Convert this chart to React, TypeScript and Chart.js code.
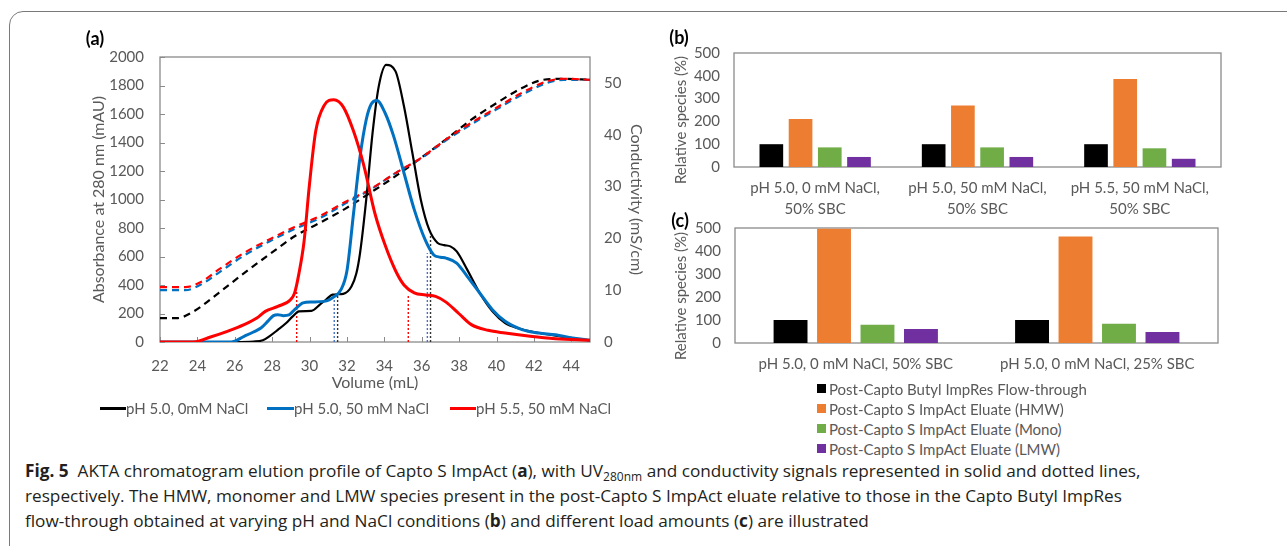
import React, { useEffect, useRef } from "react";
import { Chart, registerables } from "chart.js";
Chart.register(...registerables);

// ---------- Panel (a): chromatogram ----------
const volBlack = [22, 26, 27.0, 27.5, 27.85, 28.3, 28.75, 29.1, 29.43, 29.8, 30.1, 30.55, 30.9, 31.23, 31.5, 31.8, 32.24, 32.5, 32.7, 33.03, 33.37, 33.7, 34.1, 34.6, 35.05, 35.5, 35.95, 36.4, 36.85, 37.2, 37.53, 37.87, 38.43, 39.1, 39.78, 40.46, 41.2, 42.0, 43.4, 45];
const uvBlack = [0, 0, 3, 12, 40, 85, 133, 180, 215, 217, 218, 262, 300, 332, 335, 338, 390, 480, 624, 999, 1467, 1794, 1945, 1899, 1654, 1326, 999, 788, 695, 680, 671, 636, 508, 344, 215, 133, 95, 70, 40, 12];

const volBlue = [22, 25.8, 26.5, 27.0, 27.4, 27.8, 28.07, 28.3, 28.6, 28.9, 29.2, 29.65, 30.1, 30.78, 31.34, 31.68, 32.0, 32.35, 32.7, 33.03, 33.3, 33.6, 34.04, 34.5, 35.05, 35.6, 36.18, 36.63, 37.0, 37.3, 37.87, 38.43, 39.1, 39.78, 40.46, 41.36, 42.26, 43.16, 44.06, 45];
const uvBlue = [0, 0, 40, 70, 98, 150, 185, 192, 185, 190, 227, 274, 281, 285, 320, 367, 500, 900, 1300, 1560, 1670, 1695, 1607, 1443, 1186, 929, 718, 613, 595, 589, 554, 461, 344, 227, 145, 87, 63, 51, 28, 12];

const volRed = [22, 23.8, 24.7, 25.6, 26.5, 27.18, 27.63, 28.3, 28.98, 29.2, 29.43, 29.7, 29.99, 30.33, 30.78, 31.3, 31.8, 32.35, 32.9, 33.5, 34.04, 34.6, 35.05, 35.6, 36.2, 36.74, 37.3, 37.98, 38.65, 39.55, 40.46, 41.8, 43.16, 45];
const uvRed = [0, 0, 35, 75, 122, 168, 215, 250, 297, 344, 480, 700, 1100, 1480, 1660, 1700, 1650, 1480, 1240, 900, 680, 500, 400, 345, 330, 320, 280, 200, 122, 82, 63, 40, 23, 12];

const condVolBlack = [22, 22.9, 23.8, 25.15, 26.5, 27.85, 29.2, 30.55, 31.9, 33.25, 34.6, 35.95, 37.3, 38.65, 40.0, 41.36, 42.5, 43.6, 45];
const condBlack = [4.6, 4.6, 5.9, 9.5, 13.3, 16.9, 20.4, 23.0, 25.7, 28.8, 32.0, 35.5, 39.1, 42.9, 46.1, 49.0, 50.6, 50.8, 50.6];
const condVolRB = [22, 23.35, 24.25, 25.15, 26.5, 27.85, 29.2, 30.55, 31.9, 33.25, 34.6, 35.95, 37.3, 38.65, 40.0, 41.36, 42.7, 43.6, 45];
const condRed = [10.6, 10.6, 11.7, 14.0, 17.2, 19.8, 22.2, 24.3, 27.0, 29.5, 32.6, 35.5, 39.1, 42.3, 45.2, 48.1, 50.3, 50.8, 50.6];
const condBlue = [10.0, 10.0, 11.2, 13.4, 16.7, 19.4, 21.8, 23.9, 26.7, 29.4, 32.6, 35.4, 38.9, 42.0, 44.9, 47.7, 50.0, 50.6, 50.6];

// fraction cut marks (volume, absorbance at top of the marker)
const fracBlackVol = [31.5, 36.47];
const fracBlackTop = [332, 753];
const fracBlueVol = [31.32, 36.3];
const fracBlueTop = [315, 624];
const fracRedVol = [29.31, 35.28];
const fracRedTop = [360, 335];

const seriesA = ["pH 5.0, 0mM NaCl", "pH 5.0, 50 mM NaCl", "pH 5.5, 50 mM NaCl"];

// ---------- Panel (b) ----------
const bCategories = [["pH 5.0, 0 mM NaCl,", "50% SBC"], ["pH 5.0, 50 mM NaCl,", "50% SBC"], ["pH 5.5, 50 mM NaCl,", "50% SBC"]];
const bFlow = [100, 100, 100];
const bHMW = [211, 270, 386];
const bMono = [86, 86, 82];
const bLMW = [44, 44, 36];

// ---------- Panel (c) ----------
const cCategories = ["pH 5.0, 0 mM NaCl, 50% SBC", "pH 5.0, 0 mM NaCl, 25% SBC"];
const cFlow = [100, 100];
const cHMW = [497, 463];
const cMono = [79, 84];
const cLMW = [61, 48];

const barSeries = [
  "Post-Capto Butyl ImpRes Flow-through",
  "Post-Capto S ImpAct Eluate (HMW)",
  "Post-Capto S ImpAct Eluate (Mono)",
  "Post-Capto S ImpAct Eluate (LMW)",
];
const barColors = ["#000000", "#ED7D31", "#70AD47", "#7030A0"];

const FONT = "Lato, 'Open Sans', sans-serif";
const GRAY = "#595959";

const pts = (xs: number[], ys: number[]) => xs.map((x, i) => ({ x, y: ys[i] }));
const plain = (v: any) => String(v);

const boxPlugin = {
  id: "box",
  beforeDatasetsDraw(chart: any) {
    const { ctx, chartArea: a } = chart;
    ctx.save();
    ctx.strokeStyle = "#8a8a8a";
    ctx.lineWidth = 1.3;
    ctx.strokeRect(a.left, a.top, a.right - a.left, a.bottom - a.top);
    ctx.restore();
  },
};

const innerTicks = {
  id: "innerTicks",
  beforeDatasetsDraw(chart: any) {
    const { ctx, chartArea: a, scales } = chart;
    ctx.save();
    ctx.strokeStyle = "#8a8a8a";
    ctx.lineWidth = 1;
    ctx.beginPath();
    scales.x.ticks.forEach((t: any) => {
      const px = Math.round(scales.x.getPixelForValue(t.value)) + 0.5;
      ctx.moveTo(px, a.bottom);
      ctx.lineTo(px, a.bottom - 5);
    });
    scales.y.ticks.forEach((t: any) => {
      const py = Math.round(scales.y.getPixelForValue(t.value)) + 0.5;
      ctx.moveTo(a.left, py);
      ctx.lineTo(a.left + 5, py);
    });
    ctx.stroke();
    ctx.restore();
  },
};

function lineDs(data: any, color: string, width: number, axis: string, dash: number[] = []) {
  return {
    data,
    borderColor: color,
    backgroundColor: color,
    borderWidth: width,
    borderDash: dash,
    pointRadius: 0,
    fill: false,
    cubicInterpolationMode: "monotone" as const,
    yAxisID: axis,
  };
}

function fracDs(vols: number[], tops: number[], color: string) {
  return vols.map((v, i) => ({
    data: [{ x: v, y: 0 }, { x: v, y: tops[i] }],
    borderColor: color,
    borderWidth: 1.4,
    borderDash: [2, 2],
    pointRadius: 0,
    fill: false,
    yAxisID: "y",
  }));
}

function barOptions(pad: any, axisH: number, axisW: number) {
  return {
    responsive: false,
    animation: false as const,
    devicePixelRatio: 1,
    layout: { padding: pad },
    plugins: { legend: { display: false }, tooltip: { enabled: false } },
    scales: {
      x: {
        grid: { display: false, drawTicks: false },
        border: { display: false },
        ticks: { padding: 10.5, color: GRAY, maxRotation: 0, autoSkip: false, font: { family: FONT, size: 15, lineHeight: 1.4 } },
        afterFit: (s: any) => { s.height = axisH; },
      },
      y: {
        min: 0,
        max: 500,
        grid: { display: false, drawTicks: false },
        border: { display: false },
        ticks: { stepSize: 100, padding: 14, color: GRAY, font: { family: FONT, size: 15 }, callback: plain },
        afterFit: (s: any) => { s.width = axisW; },
      },
    },
  };
}

function barDatasets(series: number[][], catPct: number, barPct: number) {
  return series.map((d, i) => ({
    label: barSeries[i],
    data: d,
    backgroundColor: barColors[i],
    borderWidth: 0,
    categoryPercentage: catPct,
    barPercentage: barPct,
  }));
}

export default function App() {
  const refA = useRef<HTMLCanvasElement>(null);
  const refB = useRef<HTMLCanvasElement>(null);
  const refC = useRef<HTMLCanvasElement>(null);

  useEffect(() => {
    const charts: Chart[] = [];
    charts.push(
      new Chart(refA.current!, {
        type: "line",
        data: {
          datasets: [
            lineDs(pts(volRed, uvRed), "#FF0000", 3, "y"),
            lineDs(pts(volBlue, uvBlue), "#0070C0", 3, "y"),
            lineDs(pts(volBlack, uvBlack), "#000000", 2.2, "y"),
            ...fracDs(fracRedVol, fracRedTop, "#FF0000"),
            ...fracDs(fracBlueVol, fracBlueTop, "#4472C4"),
            ...fracDs(fracBlackVol, fracBlackTop, "#333333"),
            lineDs(pts(condVolRB, condRed), "#FF0000", 2.2, "y2", [7, 5]),
            lineDs(pts(condVolRB, condBlue), "#0070C0", 2.2, "y2", [7, 5]),
            lineDs(pts(condVolBlack, condBlack), "#000000", 2.2, "y2", [7, 5]),
          ] as any,
        },
        options: {
          responsive: false,
          animation: false,
          devicePixelRatio: 1,
          layout: { padding: { top: 57, left: 0, right: 0, bottom: 0 } },
          plugins: { legend: { display: false }, tooltip: { enabled: false } },
          scales: {
            x: {
              type: "linear",
              min: 22,
              max: 45,
              grid: { display: false, drawTicks: false },
              border: { display: false },
              ticks: { stepSize: 2, includeBounds: false, padding: 15, color: GRAY, font: { family: FONT, size: 15 }, callback: plain } as any,
              title: { display: true, text: "Volume (mL)", color: GRAY, font: { family: FONT, size: 16 }, padding: { top: 0, bottom: 38 } },
              afterFit: (s: any) => { s.height = 88; },
            },
            y: {
              position: "left",
              min: 0,
              max: 2000,
              grid: { display: false, drawTicks: false },
              border: { display: false },
              ticks: { stepSize: 200, padding: 16, color: GRAY, font: { family: FONT, size: 15 }, callback: plain },
              title: { display: true, text: "Absorbance at 280 nm (mAU)", color: GRAY, font: { family: FONT, size: 16 }, padding: { top: 89, bottom: 0 } },
              afterFit: (s: any) => { s.width = 160; },
            },
            y2: {
              position: "right",
              min: 0,
              max: 55,
              grid: { display: false, drawTicks: false },
              border: { display: false },
              ticks: { stepSize: 10, includeBounds: false, padding: 14, color: GRAY, font: { family: FONT, size: 15 }, callback: plain } as any,
              title: { display: true, text: "Conductivity (mS/cm)", color: GRAY, font: { family: FONT, size: 16 }, padding: { top: 14, bottom: 0 } },
              afterFit: (s: any) => { s.width = 70; },
            },
          },
        } as any,
        plugins: [boxPlugin, innerTicks],
      })
    );
    charts.push(
      new Chart(refB.current!, {
        type: "bar",
        data: { labels: bCategories, datasets: barDatasets([bFlow, bHMW, bMono, bLMW], 0.72, 0.81) as any },
        options: barOptions({ top: 21, right: 49, left: 0, bottom: 0 }, 63, 84) as any,
        plugins: [boxPlugin],
      })
    );
    charts.push(
      new Chart(refC.current!, {
        type: "bar",
        data: { labels: cCategories, datasets: barDatasets([cFlow, cHMW, cMono, cLMW], 0.72, 0.78) as any },
        options: barOptions({ top: 20, right: 52, left: 0, bottom: 0 }, 37, 85) as any,
        plugins: [boxPlugin],
      })
    );
    return () => charts.forEach((c) => c.destroy());
  }, []);

  const abs = (o: React.CSSProperties): React.CSSProperties => ({ position: "absolute", ...o });
  const legA = [
    { x: 100, tx: 126, color: "#000000" },
    { x: 267, tx: 294, color: "#0070C0" },
    { x: 450, tx: 476, color: "#FF0000" },
  ];

  return (
    <div style={abs({ left: 0, top: 0, width: 1287, height: 546, overflow: "hidden", background: "#fff", fontFamily: FONT })}>
      <div style={abs({ left: 9, top: 11, width: 1320, height: 600, border: "1.5px solid #7a7a7a", borderRadius: 14, boxSizing: "border-box" })} />
      <canvas ref={refA} width={660} height={430} style={abs({ left: 0, top: 0 })} />
      <canvas ref={refB} width={620} height={200} style={abs({ left: 650, top: 30 })} />
      <canvas ref={refC} width={620} height={175} style={abs({ left: 650, top: 205 })} />

      <div style={abs({ left: 95, top: 38, transform: "translate(-50%,-50%)", fontWeight: 700, fontSize: 18, color: "#000" })}>(a)</div>
      <div style={abs({ left: 679, top: 37, transform: "translate(-50%,-50%)", fontWeight: 700, fontSize: 18, color: "#000" })}>(b)</div>
      <div style={abs({ left: 680, top: 220, transform: "translate(-50%,-50%)", fontWeight: 700, fontSize: 18, color: "#000" })}>(c)</div>

      <div style={abs({ left: 680, top: 120, transform: "translate(-50%,-50%) rotate(-90deg)", whiteSpace: "nowrap", fontSize: 15, color: GRAY })}>Relative species (%)</div>
      <div style={abs({ left: 680, top: 296, transform: "translate(-50%,-50%) rotate(-90deg)", whiteSpace: "nowrap", fontSize: 15, color: GRAY })}>Relative species (%)</div>

      {legA.map((l, i) => (
        <React.Fragment key={i}>
          <div style={abs({ left: l.x, top: 407, width: l.tx - l.x, height: 3, background: l.color })} />
          <div style={abs({ left: l.tx, top: 408, transform: "translateY(-50%)", whiteSpace: "nowrap", fontSize: 15, color: GRAY })}>{seriesA[i]}</div>
        </React.Fragment>
      ))}

      {barSeries.map((s, i) => (
        <React.Fragment key={s}>
          <div style={abs({ left: 817, top: 384 + i * 20, width: 9, height: 9, background: barColors[i] })} />
          <div style={abs({ left: 829, top: 389 + i * 20, transform: "translateY(-50%)", whiteSpace: "nowrap", fontSize: 15, color: GRAY })}>{s}</div>
        </React.Fragment>
      ))}

      <div style={abs({ left: 25, top: 458, whiteSpace: "nowrap", fontFamily: "'Open Sans', sans-serif", fontSize: 17.2, lineHeight: "25px", color: "#231f20" })}>
        <div><b>Fig. 5</b>&nbsp; AKTA chromatogram elution profile of Capto S ImpAct (<b>a</b>), with UV<span style={{ fontSize: 12, verticalAlign: -4, lineHeight: 0 }}>280nm</span> and conductivity signals represented in solid and dotted lines,</div>
        <div>respectively. The HMW, monomer and LMW species present in the post-Capto S ImpAct eluate relative to those in the Capto Butyl ImpRes</div>
        <div>flow-through obtained at varying pH and NaCl conditions (<b>b</b>) and different load amounts (<b>c</b>) are illustrated</div>
      </div>
    </div>
  );
}
